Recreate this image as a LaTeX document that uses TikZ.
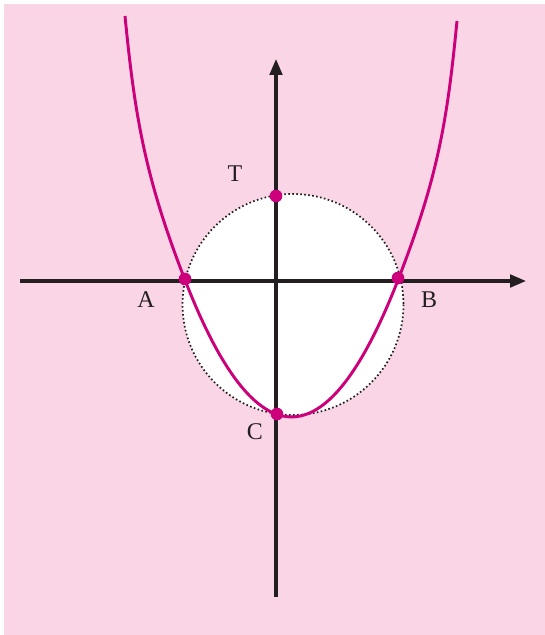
\documentclass[tikz,border=0pt]{standalone}
\usepackage{fontspec}
\setmainfont{Liberation Serif}
\usetikzlibrary{arrows.meta}
\definecolor{bgpink}{RGB}{249,213,229}
\definecolor{curvemag}{RGB}{204,0,122}
\definecolor{axisblack}{RGB}{35,31,32}
\tikzset{
  axisline/.style={draw=axisblack, line width=2.3pt, -{Triangle[length=12pt,width=9.5pt]}},
  curveline/.style={draw=curvemag, line width=2.2pt, line join=round},
  dotnode/.style={circle, fill=curvemag, inner sep=0pt, minimum size=9.5pt},
  lbl/.style={font=\fontsize{18}{20}\selectfont, text=axisblack, inner sep=0pt},
}
\begin{document}
\begin{tikzpicture}[x={(0.75pt,0)}, y={(0,-0.75pt)}]
\useasboundingbox (0,0) rectangle (545,635);
\fill[bgpink] (4,4) rectangle (545,635);
% circle
\fill[white] (293,304.5) circle[radius=110.5];
\draw[axisblack, line width=1.3pt, dash pattern=on 1.2pt off 1.8pt] (293,304.5) circle[radius=110.5];
% axes
\coordinate (xl) at (20,281);
\coordinate (xr) at (526,281);
\coordinate (yb) at (276,597);
\coordinate (yt) at (276,59);
\draw[axisline] (xl) -- (xr);
\draw[axisline] (yb) -- (yt);
% curve
\coordinate (topL) at (125,16);
\coordinate (topR) at (457,21);
\coordinate (pA) at (185,280);
\coordinate (pB) at (398,280);
\draw[curveline] (topL) .. controls (134.8,116) and (145,177.2) .. (pA)
  -- plot[domain=185:398, samples=80] (\x,{280+0.01207*(\x-185)*(398-\x)})
  -- (pB) .. controls (438,177.2) and (447.2,121) .. (topR);
% points
\node[dotnode] (A) at (185,279) {};
\node[dotnode] (B) at (398,278) {};
\node[dotnode] (C) at (277,414) {};
\node[dotnode] (T) at (276,196) {};
% labels
\node[lbl] (lT) at (235,174) {T};
\node[lbl] (lA) at (146,300) {A};
\node[lbl] (lB) at (429,300) {B};
\node[lbl] (lC) at (255,432) {C};
\end{tikzpicture}
\end{document}
